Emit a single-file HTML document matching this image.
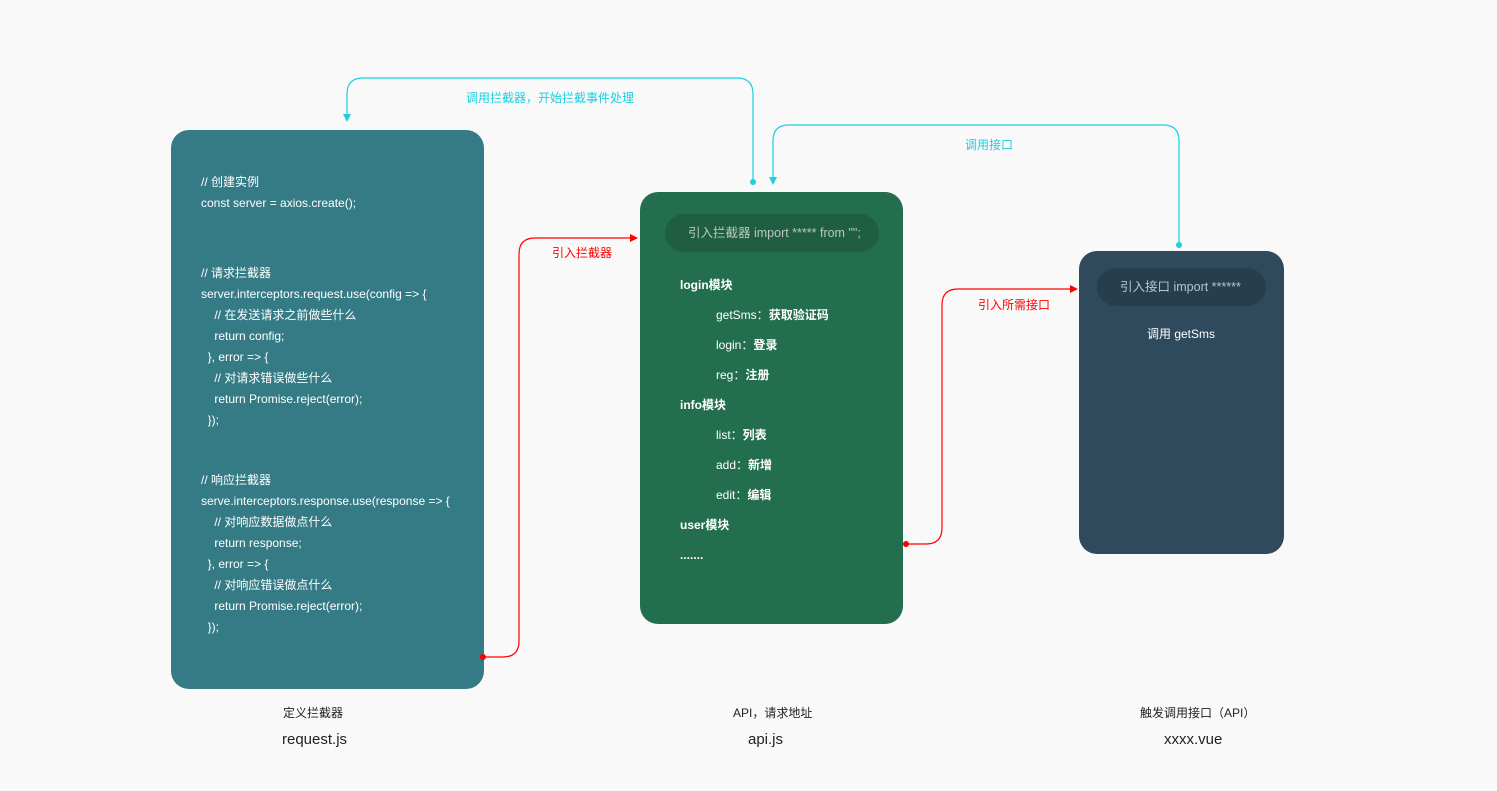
<!DOCTYPE html>
<html><head><meta charset="utf-8"><style>
body{margin:0;width:1497px;height:791px;background:#f9f9f9;position:relative;overflow:hidden;font-family:"Liberation Sans","Noto Sans CJK SC",sans-serif;}
.box{position:absolute;border-radius:18px;}
.t{position:absolute;font-size:12px;color:#fff;white-space:pre;line-height:14px;}
.c{position:absolute;font-size:12px;white-space:nowrap;}
</style></head><body>
<div class="box" style="left:171px;top:130px;width:313px;height:559px;background:#357b85"></div>
<div class="box" style="left:640px;top:192px;width:263px;height:432px;background:#236e4e"></div>
<div class="box" style="left:1079px;top:251px;width:205px;height:303px;background:#2e4a5c"></div>
<div class="box" style="left:665px;top:214px;width:214px;height:38px;border-radius:19px;background:#1f5e42"></div>
<div class="box" style="left:1097px;top:268px;width:169px;height:38px;border-radius:19px;background:#263e4e"></div>
<div class="t" style="left:688px;top:226px;color:#b9c8bf;font-size:12.5px">引入拦截器 import ***** from "";</div>
<div class="t" style="left:1120px;top:280px;color:#b9c3ca;font-size:12.5px">引入接口 import ******</div>
<div class="t" style="left:1147px;top:327px">调用 getSms</div>
<div class="t" style="left:201px;top:175px;line-height:21px;margin-top:-3px">// 创建实例
const server = axios.create();</div>
<div class="t" style="left:201px;top:266px;line-height:21px;margin-top:-3px">// 请求拦截器
server.interceptors.request.use(config => {
    // 在发送请求之前做些什么
    return config;
  }, error => {
    // 对请求错误做些什么
    return Promise.reject(error);
  });</div>
<div class="t" style="left:201px;top:473px;line-height:21px;margin-top:-3px">// 响应拦截器
serve.interceptors.response.use(response => {
    // 对响应数据做点什么
    return response;
  }, error => {
    // 对响应错误做点什么
    return Promise.reject(error);
  });</div>
<div class="t" style="left:680px;top:270px;line-height:30px;font-weight:bold">login模块</div>
<div class="t" style="left:716px;top:300px;line-height:30px">getSms：<b>获取验证码</b>
login：<b>登录</b>
reg：<b>注册</b></div>
<div class="t" style="left:680px;top:390px;line-height:30px;font-weight:bold">info模块</div>
<div class="t" style="left:716px;top:420px;line-height:30px">list：<b>列表</b>
add：<b>新增</b>
edit：<b>编辑</b></div>
<div class="t" style="left:680px;top:510px;line-height:30px;font-weight:bold">user模块
.......</div>
<div class="c" style="left:283px;top:704px;color:#222;">定义拦截器</div>
<div class="c" style="left:282px;top:731px;color:#222;font-size:15px">request.js</div>
<div class="c" style="left:733px;top:704px;color:#222;">API，请求地址</div>
<div class="c" style="left:748px;top:731px;color:#222;font-size:15px">api.js</div>
<div class="c" style="left:1140px;top:704px;color:#222;">触发调用接口（API）</div>
<div class="c" style="left:1164px;top:731px;color:#222;font-size:15px">xxxx.vue</div>
<div class="c" style="left:466px;top:89px;color:#1ccfe0;">调用拦截器，开始拦截事件处理</div>
<div class="c" style="left:965px;top:136px;color:#1ccfe0;">调用接口</div>
<div class="c" style="left:552px;top:244px;color:#f00;">引入拦截器</div>
<div class="c" style="left:978px;top:296px;color:#f00;">引入所需接口</div>
<svg width="1497" height="791" style="position:absolute;left:0;top:0">
<g fill="none" stroke-width="1.2">
<path d="M483 657 H503 Q519 657 519 641 V254 Q519 238 535 238 H632" stroke="#f00"/>
<path d="M906 544 H926 Q942 544 942 528 V305 Q942 289 958 289 H1072" stroke="#f00"/>
<path d="M753 182 V94 Q753 78 737 78 H363 Q347 78 347 94 V116" stroke="#1ccfe0"/>
<path d="M1179 245 V141 Q1179 125 1163 125 H789 Q773 125 773 141 V179" stroke="#1ccfe0"/>
</g>
<circle cx="483" cy="657" r="3" fill="#f00"/><circle cx="906" cy="544" r="3" fill="#f00"/>
<circle cx="753" cy="182" r="3" fill="#1ccfe0"/><circle cx="1179" cy="245" r="3" fill="#1ccfe0"/>
<path d="M638 238 l-8 -4 v8z" fill="#f00"/><path d="M1078 289 l-8 -4 v8z" fill="#f00"/>
<path d="M347 122 l-4 -8 h8z" fill="#1ccfe0"/><path d="M773 185 l-4 -8 h8z" fill="#1ccfe0"/>
</svg>
</body></html>
